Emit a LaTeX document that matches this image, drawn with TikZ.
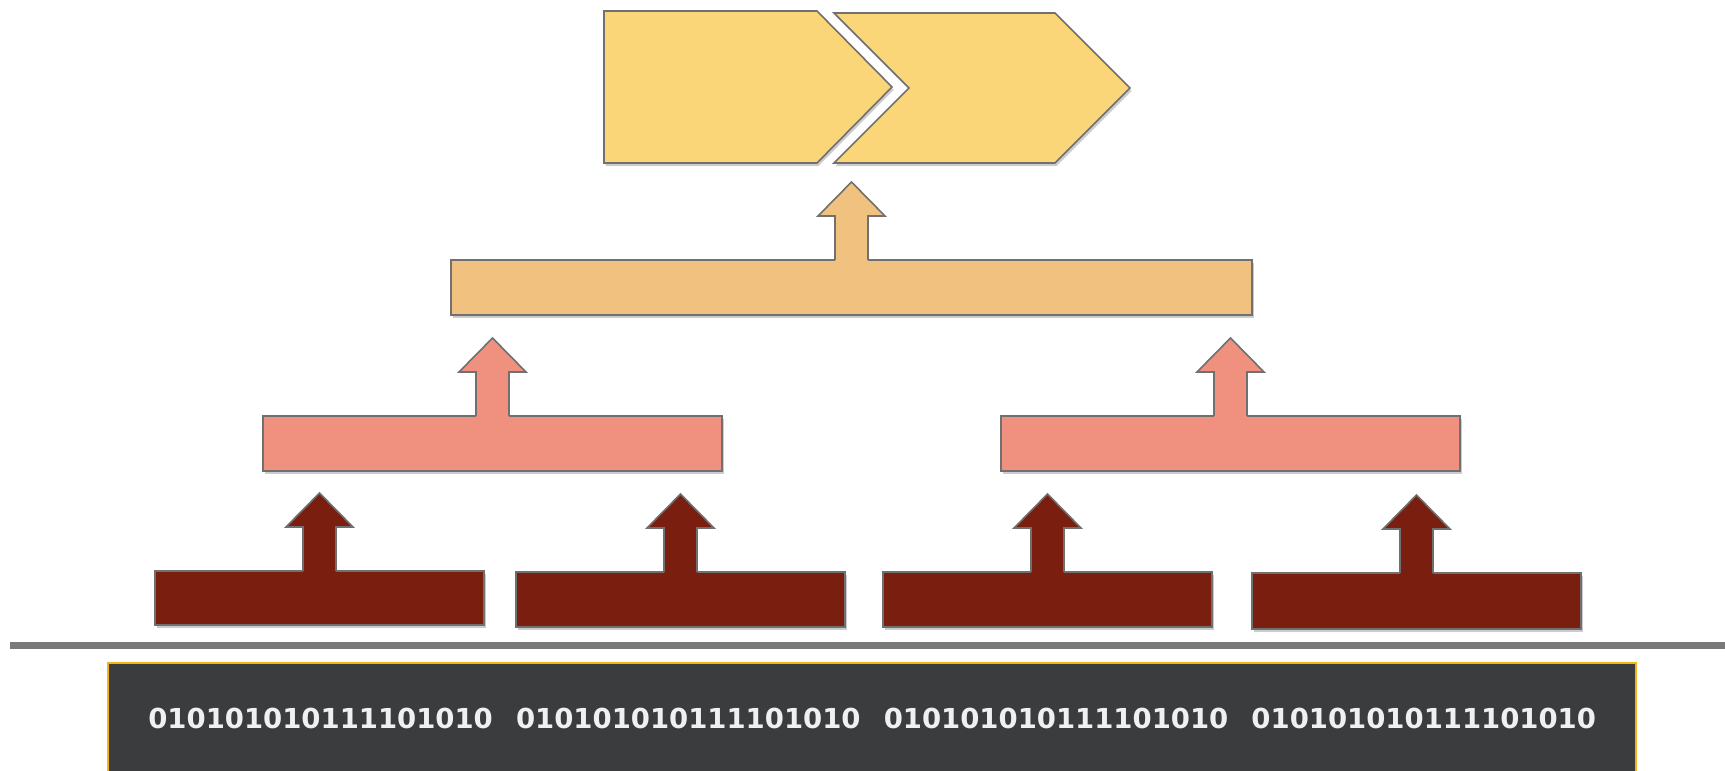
\documentclass[tikz,border=0pt]{standalone}
\usepackage{fontspec}
\newfontfamily\bitsfont{DejaVu Sans}
\usetikzlibrary{calc,shadows}
\definecolor{chevc}{HTML}{FBD678}
\definecolor{orgc}{HTML}{F1C27F}
\definecolor{pinkc}{HTML}{F0907F}
\definecolor{brnc}{HTML}{7A1F10}
\definecolor{edgec}{HTML}{707070}
\definecolor{linec}{HTML}{7A7A7A}
\definecolor{barc}{HTML}{3B3C3E}
\definecolor{baredge}{HTML}{F2B418}
\pgfdeclarelayer{shad}
\pgfsetlayers{shad,main}
\tikzset{
  shd/.style={drop shadow={shadow xshift=1.5pt,shadow yshift=-3pt,opacity=.2,fill=black}},
  edge/.style={draw=edgec, line width=1.6pt},
  blk/.style={rectangle, edge, inner sep=0pt, outer sep=0pt, shd},
  bits/.style={text=white!94!black, font=\bitsfont\bfseries\fontsize{27.5}{30}\selectfont, inner sep=0pt, anchor=base},
}
\newcommand\blockup[2]{%
  \coordinate (#1-s) at ($(#1.north)+(-16.5,1)$);
  \begin{pgfonlayer}{shad}
    \fill[black,opacity=.2,shift={(1.5pt,-3pt)}] (#1-s) -- ++(0,-45) -- ++(-17,0) -- ++(33.5,-34) -- ++(33.5,34) -- ++(-17,0) -- ++(0,45) -- cycle;
  \end{pgfonlayer}
  \fill[#2] (#1-s) -- ++(0,-45) -- ++(-17,0) -- ++(33.5,-34) -- ++(33.5,34) -- ++(-17,0) -- ++(0,45) -- cycle;
  \draw[edge] ($(#1.north)+(-16.5,0)$) -- ++(0,-44) -- ++(-17,0) -- ++(33.5,-34) -- ++(33.5,34) -- ++(-17,0) -- ++(0,44);
}
\begin{document}
\begin{tikzpicture}[x=1pt,y=-1pt]
\useasboundingbox (0,0) rectangle (1725,771);

% chevrons
\coordinate (c1) at (604,11);
\coordinate (c2) at (834,13);
\path[fill=chevc, edge, shd] (c1) -- (817,11) -- (892,87) -- (817,163) -- (604,163) -- cycle;
\path[fill=chevc, edge, shd] (c2) -- (1055,13) -- (1130,88) -- (1055,163) -- (834,163) -- (909,88) -- cycle;

% top bar
\node[blk, fill=orgc, minimum width=801pt, minimum height=55pt] (o1) at (851.5,287.5) {};
\blockup{o1}{orgc}

% middle bars
\node[blk, fill=pinkc, minimum width=459pt, minimum height=55pt] (p1) at (492.5,443.5) {};
\node[blk, fill=pinkc, minimum width=459pt, minimum height=55pt] (p2) at (1230.5,443.5) {};
\blockup{p1}{pinkc}
\blockup{p2}{pinkc}

% bottom boxes
\node[blk, fill=brnc, minimum width=329pt, minimum height=54pt] (b1) at (319.5,598) {};
\node[blk, fill=brnc, minimum width=329pt, minimum height=55pt] (b2) at (680.5,599.5) {};
\node[blk, fill=brnc, minimum width=329pt, minimum height=55pt] (b3) at (1047.5,599.5) {};
\node[blk, fill=brnc, minimum width=329pt, minimum height=56pt] (b4) at (1416.5,601) {};
\blockup{b1}{brnc}
\blockup{b2}{brnc}
\blockup{b3}{brnc}
\blockup{b4}{brnc}

% separator line
\coordinate (l1) at (10,645.5);
\coordinate (l2) at (1730,645.5);
\draw[linec, line width=7pt] (l1) -- (l2);

% bit bar
\node[rectangle, fill=barc, draw=baredge, line width=2pt, inner sep=0pt, outer sep=0pt,
      minimum width=1528pt, minimum height=130pt, anchor=north west] (bar) at (108,663) {};
\node[bits] (txt) at (872,728) {010101010111101010\hspace{23.2pt}010101010111101010\hspace{23.2pt}010101010111101010\hspace{23.2pt}010101010111101010};
\end{tikzpicture}
\end{document}
